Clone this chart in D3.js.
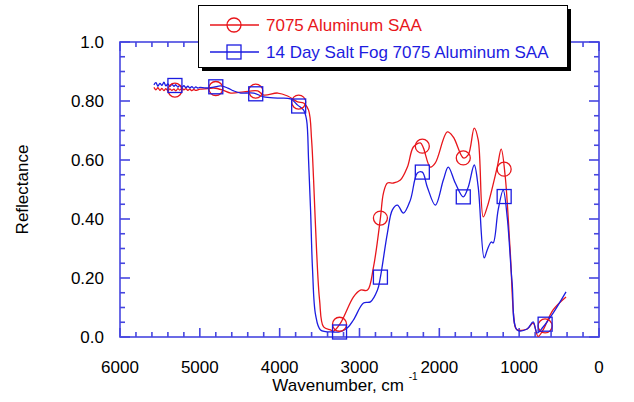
<!DOCTYPE html>
<html>
<head>
<meta charset="utf-8">
<script src="https://cdn.jsdelivr.net/npm/d3@7"></script>
<style>
  body { margin: 0; background: #fff; }
  svg { display: block; font-family: "Liberation Sans", Arial, sans-serif; }
</style>
</head>
<body>
<div id="chart"></div>
<script>
// wavenumber (cm-1) / reflectance
var saaWave = [5575, 5550, 5525, 5500, 5475, 5450, 5425, 5400, 5375, 5350, 5325, 5300, 5275, 5250, 5225,
  5200, 5175, 5150, 5125, 5100, 5075, 5050, 5025, 5000, 4900, 4825, 4713, 4613, 4450, 4275, 4200, 4025, 3900,
  3775, 3700, 3638, 3600, 3575, 3538, 3500, 3450, 3363, 3325, 3238, 3075, 2988, 2900, 2825, 2738,
  2700, 2650, 2575, 2488, 2400, 2325, 2238, 2200, 2113, 2050, 1900, 1825, 1700, 1638, 1563, 1513,
  1450, 1400, 1275, 1225, 1175, 1113, 1050, 1025, 900, 825, 763, 700, 575, 413];
var saaRefl = [0.846, 0.838, 0.845, 0.836, 0.843, 0.835, 0.842, 0.834, 0.841, 0.836, 0.840, 0.834, 0.842, 0.837, 0.843,
  0.838, 0.842, 0.836, 0.840, 0.835, 0.839, 0.836, 0.838, 0.840, 0.842, 0.844, 0.837, 0.827, 0.831, 0.834, 0.820, 0.827, 0.817,
  0.797, 0.793, 0.769, 0.668, 0.532, 0.295, 0.125, 0.034, 0.024, 0.020, 0.047, 0.136, 0.159, 0.159, 0.237, 0.403,
  0.488, 0.522, 0.522, 0.532, 0.576, 0.644, 0.658, 0.641, 0.576, 0.590, 0.695, 0.678, 0.607, 0.617, 0.708, 0.668,
  0.407, 0.441, 0.576, 0.637, 0.545, 0.295, 0.034, 0.024, 0.027, 0.047, 0.002, 0.024, 0.092, 0.136];

var fogWave = [5575, 5550, 5525, 5500, 5475, 5450, 5425, 5400, 5375, 5350, 5325, 5300, 5275, 5250, 5225,
  5200, 5175, 5150, 5125, 5100, 5075, 5050, 5025, 5000, 4925, 4825, 4738, 4650, 4575, 4488, 4325,
  4200, 4025, 3863, 3775, 3700, 3663, 3638, 3613, 3588, 3550, 3488, 3325, 3250, 3150, 3075, 2950, 2863,
  2775, 2738, 2650, 2588, 2525, 2450, 2363, 2275, 2213, 2150, 2050, 1950, 1888, 1800, 1700, 1638, 1563,
  1513, 1438, 1400, 1350, 1325, 1263, 1200, 1150, 1088, 1025, 900, 825, 775, 700, 575, 413];
var fogRefl = [0.855, 0.862, 0.850, 0.860, 0.853, 0.864, 0.851, 0.858, 0.849, 0.857, 0.850, 0.855, 0.847, 0.853, 0.846,
  0.852, 0.845, 0.850, 0.844, 0.849, 0.843, 0.848, 0.844, 0.846, 0.844, 0.847, 0.851, 0.844, 0.834, 0.827, 0.827,
  0.814, 0.810, 0.807, 0.786, 0.769, 0.736, 0.600, 0.431, 0.227, 0.075, 0.024, 0.017, 0.017, 0.031, 0.058, 0.115, 0.119,
  0.159, 0.203, 0.353, 0.431, 0.447, 0.420, 0.464, 0.556, 0.559, 0.508, 0.447, 0.532, 0.576, 0.522, 0.475, 0.508, 0.583,
  0.508, 0.268, 0.295, 0.322, 0.319, 0.431, 0.498, 0.407, 0.183, 0.024, 0.027, 0.051, 0.014, 0.034, 0.081, 0.153];

// symbols every ~512 cm-1
var markerWave = [5312, 4800, 4300, 3762, 3250, 2738, 2213, 1700, 1188, 675];

var seriesNames = ["7075 Aluminum SAA", "14 Day Salt Fog 7075 Aluminum SAA"];
var xTicks = [6000, 5000, 4000, 3000, 2000, 1000, 0];
var yTicks = [0, 0.2, 0.4, 0.6, 0.8, 1.0];
var yTickText = ["0.0", "0.20", "0.40", "0.60", "0.80", "1.0"];

var W = 634, H = 402;
var RED = "#e8161b", BLUE = "#1c1ce0", AXIS = "#4646e0";
var margin = {left: 120, right: 35, top: 42, bottom: 65};

var svg = d3.select("#chart").append("svg").attr("width", W).attr("height", H);

var x = d3.scaleLinear().domain([6000, 0]).range([margin.left, W - margin.right]);
var y = d3.scaleLinear().domain([0, 1]).range([H - margin.bottom, margin.top]);

function pairs(ws, rs) {
  return ws.map(function(w, i) { return [w, rs[i]]; });
}
function valueAt(ws, rs, w) {
  for (var i = 0; i < ws.length - 1; i++) {
    if (w <= ws[i] && w >= ws[i + 1]) {
      var t = (ws[i] - w) / (ws[i] - ws[i + 1]);
      return rs[i] + t * (rs[i + 1] - rs[i]);
    }
  }
  return rs[rs.length - 1];
}

var series = [
  {name: seriesNames[0], data: pairs(saaWave, saaRefl), ws: saaWave, rs: saaRefl, color: RED, sym: "circle"},
  {name: seriesNames[1], data: pairs(fogWave, fogRefl), ws: fogWave, rs: fogRefl, color: BLUE, sym: "square"}
];

// frame with inward ticks on all four sides
var x0 = x.range()[0], x1 = x.range()[1], y0 = y.range()[0], y1 = y.range()[1];
var frame = svg.append("g").attr("stroke", AXIS).attr("stroke-width", 1.6).attr("fill", "none");
frame.append("rect").attr("x", x0).attr("y", y1).attr("width", x1 - x0).attr("height", y0 - y1);

d3.range(6000, -1, -200).forEach(function(v) {
  var len = v % 1000 === 0 ? 9 : 5;
  frame.append("line").attr("x1", x(v)).attr("x2", x(v)).attr("y1", y0).attr("y2", y0 - len);
  frame.append("line").attr("x1", x(v)).attr("x2", x(v)).attr("y1", y1).attr("y2", y1 + len);
});
d3.range(0, 21).forEach(function(k) {
  var v = k * 0.05, len = k % 4 === 0 ? 10 : 5;
  frame.append("line").attr("x1", x0).attr("x2", x0 + len).attr("y1", y(v)).attr("y2", y(v));
  frame.append("line").attr("x1", x1).attr("x2", x1 - len).attr("y1", y(v)).attr("y2", y(v));
});

// tick labels
svg.append("g").selectAll("text").data(xTicks).join("text")
  .attr("x", function(d) { return x(d); })
  .attr("y", y0 + 36)
  .attr("text-anchor", "middle")
  .attr("font-size", 17)
  .text(function(d) { return d; });

svg.append("g").selectAll("text").data(yTicks).join("text")
  .attr("x", x0 - 16)
  .attr("y", function(d) { return y(d); })
  .attr("dy", "0.36em")
  .attr("text-anchor", "end")
  .attr("font-size", 17)
  .text(function(d, i) { return yTickText[i]; });

// axis titles
var xt = svg.append("text").attr("x", 345).attr("y", 391).attr("text-anchor", "middle").attr("font-size", 17);
xt.append("tspan").text("Wavenumber, cm ");
xt.append("tspan").attr("font-size", 10).attr("dy", -11).text("-1");

svg.append("text")
  .attr("transform", "translate(28," + ((y0 + y1) / 2) + ") rotate(-90)")
  .attr("text-anchor", "middle")
  .attr("font-size", 17)
  .text("Reflectance");

// curves
var line = d3.line()
  .x(function(d) { return x(d[0]); })
  .y(function(d) { return y(d[1]); })
  .curve(d3.curveCatmullRom.alpha(0.5));

function drawSymbol(g, sym, cx, cy, color) {
  if (sym === "circle") {
    g.append("circle").attr("cx", cx).attr("cy", cy).attr("r", 7)
      .attr("fill", "none").attr("stroke", color).attr("stroke-width", 1.3);
  } else {
    g.append("rect").attr("x", cx - 7).attr("y", cy - 7).attr("width", 14).attr("height", 14)
      .attr("fill", "none").attr("stroke", color).attr("stroke-width", 1.3);
  }
}

series.forEach(function(s) {
  svg.append("path").datum(s.data)
    .attr("d", line)
    .attr("fill", "none")
    .attr("stroke", s.color)
    .attr("stroke-width", 1.3);
});
series.forEach(function(s) {
  var g = svg.append("g");
  markerWave.forEach(function(w) {
    drawSymbol(g, s.sym, x(w), y(valueAt(s.ws, s.rs, w)), s.color);
  });
});

// legend box with drop shadow
var lg = svg.append("g");
lg.append("rect").attr("x", 202).attr("y", 9).attr("width", 369).attr("height", 62).attr("fill", "#000");
lg.append("rect").attr("x", 198.5).attr("y", 5.5).attr("width", 369).attr("height", 62)
  .attr("fill", "#fff").attr("stroke", "#000").attr("stroke-width", 1);

series.forEach(function(s, i) {
  var ly = 25 + i * 27;
  lg.append("line").attr("x1", 210).attr("x2", 259).attr("y1", ly).attr("y2", ly)
    .attr("stroke", s.color).attr("stroke-width", 1.3);
  drawSymbol(lg, s.sym, 234, ly, s.color);
  lg.append("text").attr("x", 266).attr("y", ly).attr("dy", "0.36em")
    .attr("font-size", 17).attr("fill", s.color).text(s.name);
});
</script>
</body>
</html>
